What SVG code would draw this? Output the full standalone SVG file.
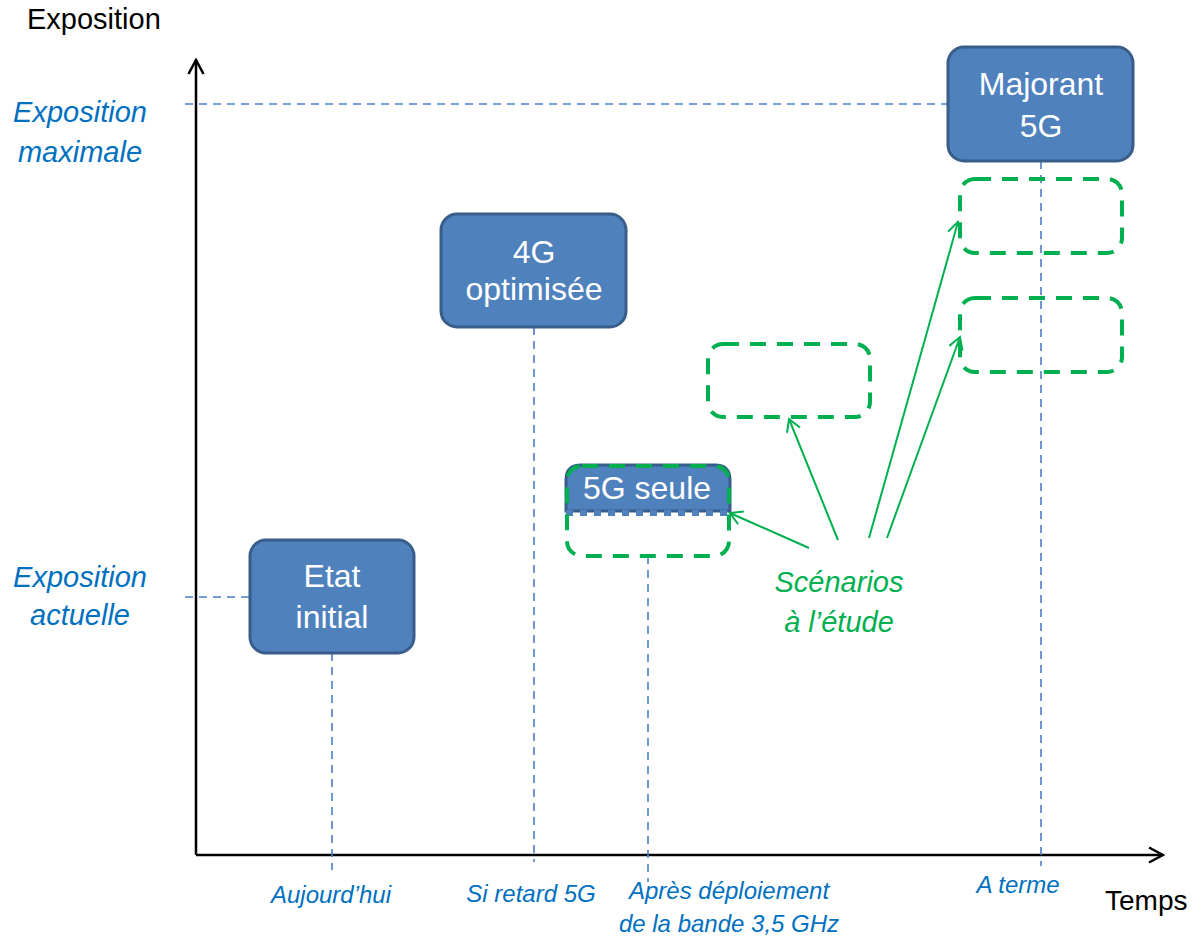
<svg xmlns="http://www.w3.org/2000/svg" width="1203" height="938" viewBox="0 0 1203 938">
<style>
  text { font-family: "Liberation Sans", Arial, sans-serif; }
  .axis { stroke: #000; stroke-width: 2.5; fill: none; }
  .guide { stroke: #4A7CC4; stroke-width: 1.6; stroke-dasharray: 8 6; fill: none; }
  .node { fill: #4F81BD; stroke: #385D8A; stroke-width: 3; }
  .ntext { fill: #fff; font-size: 32px; text-anchor: middle; }
  .scen { fill: none; stroke: #00B050; stroke-width: 4; stroke-dasharray: 16 11; }
  .lbl { fill: #0070C0; font-style: italic; text-anchor: middle; }
  .garrow { stroke: #00B050; stroke-width: 2; fill: none; marker-end: url(#ga); }
</style>
<defs>
  <marker id="ga" viewBox="0 0 16 16" refX="14" refY="8" markerWidth="16" markerHeight="16" markerUnits="userSpaceOnUse" orient="auto">
    <path d="M2,1 L14,8 L2,15" fill="none" stroke="#00B050" stroke-width="2"/>
  </marker>
  <marker id="ka" viewBox="0 0 18 18" refX="16" refY="9" markerWidth="18" markerHeight="18" markerUnits="userSpaceOnUse" orient="auto">
    <path d="M2,1.5 L16,9 L2,16.5" fill="none" stroke="#000" stroke-width="2.5"/>
  </marker>
</defs>
<rect width="1203" height="938" fill="#fff"/>

<g id="axes">
  <line class="axis" x1="196" y1="855" x2="196" y2="60" marker-end="url(#ka)"/>
  <line class="axis" x1="196" y1="855" x2="1163" y2="855" marker-end="url(#ka)"/>
  <text x="27" y="29" font-size="29" fill="#000">Exposition</text>
  <text x="1105" y="910" font-size="28" fill="#000">Temps</text>
</g>

<g id="guides">
  <line class="guide" x1="185" y1="104" x2="948" y2="104"/>
  <line class="guide" x1="185" y1="597" x2="250" y2="597"/>
  <line class="guide" x1="332" y1="653" x2="332" y2="870"/>
  <line class="guide" x1="534" y1="327" x2="534" y2="862"/>
  <line class="guide" x1="648" y1="556" x2="648" y2="882"/>
  <line class="guide" x1="1041" y1="161" x2="1041" y2="866"/>
</g>

<g id="y-labels">
  <text class="lbl" x="80" y="122" font-size="29">Exposition</text>
  <text class="lbl" x="80" y="162" font-size="29">maximale</text>
  <text class="lbl" x="80" y="587" font-size="29">Exposition</text>
  <text class="lbl" x="80" y="625" font-size="29">actuelle</text>
</g>

<g id="x-labels">
  <text class="lbl" x="331" y="903" font-size="24">Aujourd’hui</text>
  <text class="lbl" x="531" y="902" font-size="24">Si retard 5G</text>
  <text class="lbl" x="729" y="899" font-size="24">Après déploiement</text>
  <text class="lbl" x="729" y="932" font-size="24">de la bande 3,5 GHz</text>
  <text class="lbl" x="1018" y="893" font-size="24">A terme</text>
</g>

<g id="node-etat">
  <rect class="node" x="250" y="540" width="164" height="113" rx="16"/>
  <text class="ntext" x="332" y="587">Etat</text>
  <text class="ntext" x="332" y="628">initial</text>
</g>

<g id="node-4g">
  <rect class="node" x="441" y="214" width="185" height="113" rx="16"/>
  <text class="ntext" x="534" y="263">4G</text>
  <text class="ntext" x="534" y="300">optimisée</text>
</g>

<g id="node-majorant">
  <rect class="node" x="948" y="47" width="185" height="114" rx="16"/>
  <text class="ntext" x="1041" y="95">Majorant</text>
  <text class="ntext" x="1041" y="137">5G</text>
</g>

<g id="node-5g-seule">
  <path d="M581,465 H715 Q730,465 730,480 V511 H566 V480 Q566,465 581,465 Z" fill="#4F81BD" stroke="#385D8A" stroke-width="3"/>
  <line x1="566" y1="513" x2="730" y2="513" stroke="#4F81BD" stroke-width="6" stroke-dasharray="7 7"/>
  <text class="ntext" x="647" y="499" font-size="30">5G seule</text>
  <rect class="scen" x="567" y="466" width="162" height="90" rx="15"/>
</g>

<g id="scenario-boxes">
  <rect id="scen-mid" class="scen" x="708" y="344" width="162" height="73" rx="15"/>
  <rect id="scen-top1" class="scen" x="960" y="179" width="162" height="74" rx="15"/>
  <rect id="scen-top2" class="scen" x="960" y="298" width="162" height="74" rx="15"/>
</g>

<g id="scenarios-label">
  <text x="839" y="592" font-size="29" font-style="italic" fill="#00B050" text-anchor="middle">Scénarios</text>
  <text x="839" y="632" font-size="29" font-style="italic" fill="#00B050" text-anchor="middle">à l’étude</text>
</g>

<g id="connectors">
  <line class="garrow" x1="809" y1="548" x2="730" y2="513"/>
  <line class="garrow" x1="838" y1="540" x2="789" y2="419"/>
  <line class="garrow" x1="869" y1="538" x2="958" y2="222"/>
  <line class="garrow" x1="887" y1="538" x2="960" y2="337"/>
</g>
</svg>
